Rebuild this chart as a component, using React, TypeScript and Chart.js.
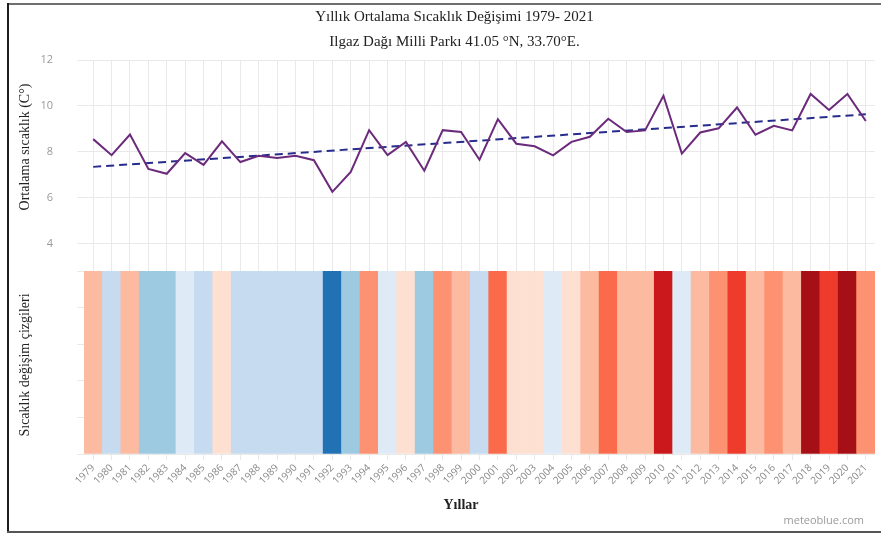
import React, { useEffect, useRef } from "react";
import { Chart, registerables } from "chart.js";

Chart.register(...registerables);

const years: string[] = [
  "1979", "1980", "1981", "1982", "1983", "1984", "1985", "1986", "1987", "1988",
  "1989", "1990", "1991", "1992", "1993", "1994", "1995", "1996", "1997", "1998",
  "1999", "2000", "2001", "2002", "2003", "2004", "2005", "2006", "2007", "2008",
  "2009", "2010", "2011", "2012", "2013", "2014", "2015", "2016", "2017", "2018",
  "2019", "2020", "2021",
];

const temps: number[] = [
  8.55, 7.85, 8.75, 7.25, 7.04, 7.94, 7.43, 8.45, 7.55, 7.82,
  7.73, 7.82, 7.63, 6.25, 7.12, 8.94, 7.85, 8.43, 7.17, 8.94,
  8.86, 7.65, 9.42, 8.35, 8.24, 7.84, 8.43, 8.65, 9.44, 8.86,
  8.93, 10.44, 7.92, 8.84, 9.02, 9.93, 8.74, 9.13, 8.93, 10.52,
  9.82, 10.52, 9.34,
];

const trendStart = { x: "1979", y: 7.34 };
const trendEnd = { x: "2021", y: 9.63 };

const stripeBase = 0;
const stripeTop = 1;

const stripeColors: string[] = [
  "#fcbba1", "#c6dbef", "#fcbba1", "#9ecae1", "#9ecae1", "#deebf7", "#c6dbef", "#fee0d2", "#c6dbef", "#c6dbef",
  "#c6dbef", "#c6dbef", "#c6dbef", "#2171b5", "#9ecae1", "#fc9272", "#deebf7", "#fee0d2", "#9ecae1", "#fc9272",
  "#fcbba1", "#c6dbef", "#fb6a4a", "#fee0d2", "#fee0d2", "#deebf7", "#fee0d2", "#fcbba1", "#fb6a4a", "#fcbba1",
  "#fcbba1", "#cb181d", "#deebf7", "#fcbba1", "#fc9272", "#ef3b2c", "#fcbba1", "#fc9272", "#fcbba1", "#a50f15",
  "#ef3b2c", "#a50f15", "#fc9272",
];

const yTicks: number[] = [4, 6, 8, 10, 12];

const titleLines: string[] = [
  "Yıllık Ortalama Sıcaklık Değişimi 1979- 2021",
  "Ilgaz Dağı Milli Parkı 41.05 °N, 33.70°E.",
];
const yTitle = "Ortalama sıcaklık (C°)";
const y2Title = "Sıcaklık değişim çizgileri";
const xTitle = "Yıllar";
const credit = "meteoblue.com";

const SERIF = "'Liberation Serif', 'Times New Roman', serif";
const SANS = "'Open Sans', 'Noto Sans', sans-serif";

const extraTexts = {
  id: "extraTexts",
  afterDraw(chart: any) {
    const ctx = chart.ctx;
    ctx.save();
    ctx.fillStyle = "#222";
    ctx.textAlign = "center";
    ctx.textBaseline = "middle";
    ctx.font = `14px ${SERIF}`;
    ctx.save();
    ctx.translate(25, 147);
    ctx.rotate(-Math.PI / 2);
    ctx.fillText(yTitle, 0, 0);
    ctx.restore();
    ctx.save();
    ctx.translate(25, 365);
    ctx.rotate(-Math.PI / 2);
    ctx.fillText(y2Title, 0, 0);
    ctx.restore();
    ctx.font = `bold 14px ${SERIF}`;
    ctx.fillText(xTitle, 461, 505);
    ctx.font = `11px ${SANS}`;
    ctx.fillStyle = "#9a9a9a";
    ctx.textAlign = "right";
    ctx.fillText(credit, 864, 521);
    ctx.restore();
  },
};

export default function App() {
  const ref = useRef<HTMLCanvasElement | null>(null);

  useEffect(() => {
    if (!ref.current) return;
    Chart.defaults.font.family = SANS;
    const chart = new Chart(ref.current, {
      data: {
        labels: years,
        datasets: [
          {
            type: "line",
            label: "Ortalama",
            data: temps,
            yAxisID: "y",
            borderColor: "#6b2a7b",
            borderWidth: 2,
            pointRadius: 0,
            tension: 0,
            order: 0,
          },
          {
            type: "line",
            label: "Trend",
            data: [trendStart, trendEnd],
            yAxisID: "y",
            borderColor: "#272c8c",
            borderWidth: 2,
            borderDash: [8, 5],
            pointRadius: 0,
            order: 1,
          },
          {
            type: "bar",
            label: "Şeritler",
            data: years.map(() => [stripeBase, stripeTop]),
            yAxisID: "y2",
            backgroundColor: stripeColors,
            borderWidth: 0,
            barPercentage: 1,
            categoryPercentage: 1,
            order: 2,
          },
        ] as any,
      },
      plugins: [extraTexts],
      options: {
        responsive: false,
        animation: false,
        layout: { padding: { left: 34, right: 6, top: 0, bottom: 0 } },
        plugins: {
          legend: { display: false },
          tooltip: { enabled: false },
          title: {
            display: true,
            text: titleLines,
            color: "#222",
            font: { family: SERIF, size: 15, weight: "normal", lineHeight: 25 / 15 },
            padding: { top: 5, bottom: 5 },
          },
        },
        scales: {
          x: {
            type: "category",
            offset: true,
            grid: { offset: false, color: "#e9e9e9", tickLength: 6 },
            border: { display: false },
            ticks: {
              autoSkip: false,
              minRotation: 45,
              maxRotation: 45,
              color: "#888",
              font: { family: SANS, size: 10 },
              padding: 2,
            },
            afterFit(s: any) {
              s.height = 83;
            },
          },
          y2: {
            type: "linear",
            position: "left",
            stack: "v",
            stackWeight: 183,
            min: 0,
            max: 1,
            ticks: { stepSize: 0.2, display: false },
            grid: { color: "#e9e9e9", tickLength: 7 },
            border: { display: false },
            afterFit(s: any) {
              s.width = 50;
            },
          },
          y: {
            type: "linear",
            position: "left",
            stack: "v",
            stackWeight: 211,
            min: 2.8,
            max: 12,
            ticks: { stepSize: 2, color: "#999", font: { family: SANS, size: 11 }, padding: 24 },
            grid: { color: "#e9e9e9", tickLength: 7 },
            border: { display: false },
            afterBuildTicks(s: any) {
              s.ticks = yTicks.map((v) => ({ value: v }));
            },
            afterFit(s: any) {
              s.width = 50;
            },
          },
        },
      } as any,
    });
    return () => chart.destroy();
  }, []);

  return (
    <div
      style={{
        position: "fixed",
        left: 0,
        top: 0,
        width: 881,
        height: 537,
        background: "#fff",
        overflow: "hidden",
      }}
    >
      <canvas ref={ref} width={881} height={537} style={{ display: "block" }} />
      <div style={{ position: "absolute", left: 7, top: 3, right: 0, height: 0, borderTop: "2px solid #6e6e6e", pointerEvents: "none" }} />
      <div style={{ position: "absolute", left: 7, top: 3, width: 0, height: 530, borderLeft: "2px solid #1e1e1e", pointerEvents: "none" }} />
      <div style={{ position: "absolute", left: 7, top: 531, right: 0, height: 0, borderTop: "2px solid #555", pointerEvents: "none" }} />
    </div>
  );
}
